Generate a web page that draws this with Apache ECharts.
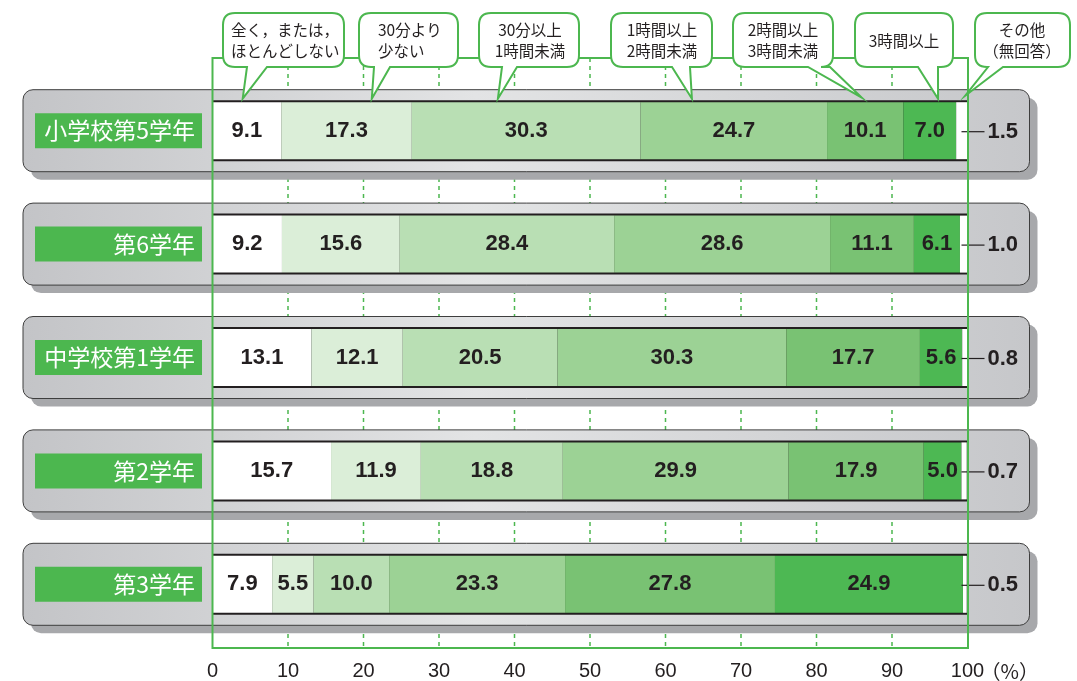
<!DOCTYPE html>
<html>
<head>
<meta charset="utf-8">
<script src="https://cdn.jsdelivr.net/npm/echarts@6/dist/echarts.min.js"></script>
<style>
html,body{margin:0;padding:0;background:#fff;}
#main{width:1077px;height:681px;}
</style>
</head>
<body>
<div id="main"></div>
<script>
// ---------- data ----------
const categories = ['小学校第5学年', '第6学年', '中学校第1学年', '第2学年', '第3学年'];
const seriesNames = ['全く，または，ほとんどしない', '30分より少ない', '30分以上1時間未満', '1時間以上2時間未満', '2時間以上3時間未満', '3時間以上', 'その他（無回答）'];
const none     = [9.1, 9.2, 13.1, 15.7, 7.9];
const lt30     = [17.3, 15.6, 12.1, 11.9, 5.5];
const m30to1h  = [30.3, 28.4, 20.5, 18.8, 10.0];
const h1to2    = [24.7, 28.6, 30.3, 29.9, 23.3];
const h2to3    = [10.1, 11.1, 17.7, 17.9, 27.8];
const h3plus   = [7.0, 6.1, 5.6, 5.0, 24.9];
const other    = [1.5, 1.0, 0.8, 0.7, 0.5];
const xTicks   = [0, 10, 20, 30, 40, 50, 60, 70, 80, 90, 100];
const legendLines = [
  ['全く，または，', 'ほとんどしない'],
  ['30分より', '少ない'],
  ['30分以上', '1時間未満'],
  ['1時間以上', '2時間未満'],
  ['2時間以上', '3時間未満'],
  ['3時間以上'],
  ['その他', '（無回答）']
];

// ---------- style / layout ----------
const colors = ['#ffffff', '#dbeed8', '#b9dfb4', '#9cd295', '#79c273', '#4db853', '#ffffff'];
const GREEN = '#4cb74f';
const INK = '#231f20';
const NUMFONT = '"Liberation Sans", Arial, sans-serif';
const CJKFONT = '"Noto Sans CJK JP", sans-serif';
// bubble boxes: x0,x1, tail base ta,tb, tail target (axis value), text x, align, apex dy
const bubbleLayout = [
  {x0: 223, x1: 344, ta: 247, tb: 267, target: 4.0,  tx: 231, align: 'left',   dy: 0},
  {x0: 359, x1: 458, ta: 374, tb: 390, target: 21.1, tx: 378, align: 'left',   dy: 0},
  {x0: 479, x1: 579, ta: 502, tb: 517, target: 37.8, tx: 530, align: 'center', dy: 0},
  {x0: 611, x1: 712, ta: 672, tb: 690, target: 63.5, tx: 662, align: 'center', dy: 0},
  {x0: 733, x1: 833, ta: 808, tb: 830, target: 86.0, tx: 783, align: 'center', dy: -1},
  {x0: 855, x1: 953, ta: 918, tb: 938, target: 96.1, tx: 904, align: 'center', dy: 0},
  {x0: 975, x1: 1070, ta: 988, tb: 1003, target: 99.7, tx: 1022, align: 'center', dy: -3}
];
const BOX_TOP = 13, BOX_BOTTOM = 67, BOX_R = 12;

function bubblePath(x0, y0, x1, y1, r, ta, tb, ax, ay) {
  return 'M' + (x0 + r) + ',' + y0 + ' L' + (x1 - r) + ',' + y0 +
    ' Q' + x1 + ',' + y0 + ' ' + x1 + ',' + (y0 + r) +
    ' L' + x1 + ',' + (y1 - r) +
    ' Q' + x1 + ',' + y1 + ' ' + (x1 - r) + ',' + y1 +
    ' L' + tb + ',' + y1 + ' L' + ax + ',' + ay + ' L' + ta + ',' + y1 +
    ' L' + (x0 + r) + ',' + y1 +
    ' Q' + x0 + ',' + y1 + ' ' + x0 + ',' + (y1 - r) +
    ' L' + x0 + ',' + (y0 + r) +
    ' Q' + x0 + ',' + y0 + ' ' + (x0 + r) + ',' + y0 + ' Z';
}

const seriesData = [none, lt30, m30to1h, h1to2, h2to3, h3plus, other];

const chart = echarts.init(document.getElementById('main'), null, {renderer: 'canvas'});

const panelGradient = new echarts.graphic.LinearGradient(0, 0, 1, 0, [
  {offset: 0, color: '#c3c4c7'},
  {offset: 0.45, color: '#e3e4e5'},
  {offset: 1, color: '#c6c7ca'}
]);

const series = [];

// dashed vertical grid lines
series.push({
  type: 'custom', z: 0, silent: true, animation: false,
  data: xTicks.filter(v => v > 0 && v < 100).map(v => [v, 0]),
  encode: {x: 0, y: 1},
  renderItem: function (params, api) {
    const cs = params.coordSys;
    const x = api.coord([api.value(0), 0])[0];
    return {type: 'line', shape: {x1: x, y1: cs.y - 16, x2: x, y2: cs.y + cs.height + 7},
      style: {stroke: GREEN, lineWidth: 1.5, lineDash: [4, 4]}};
  }
});

// row panels + black band
series.push({
  type: 'custom', z: 1, silent: true, animation: false,
  data: categories.map((c, i) => [0, i]),
  encode: {x: 0, y: 1},
  renderItem: function (params, api) {
    const i = api.value(1);
    const p0 = api.coord([0, i]);
    const p1 = api.coord([100, i]);
    const cy = p0[1];
    const L = p0[0] - 189.5, R = p1[0] + 62, T = cy - 41, H = 82;
    return {type: 'group', children: [
      {type: 'rect', shape: {x: L + 8, y: T + 8, width: R - L, height: H, r: 10}, style: {fill: '#a7a8ab'}},
      {type: 'rect', shape: {x: L, y: T, width: R - L, height: H, r: 10}, style: {fill: panelGradient, stroke: '#3e3e3e', lineWidth: 1}},
      {type: 'rect', shape: {x: p0[0], y: cy - 30.5, width: p1[0] - p0[0] + 0.5, height: 61}, style: {fill: INK}}
    ]};
  }
});

// stacked bars
seriesData.forEach((arr, k) => {
  series.push({
    name: seriesNames[k], type: 'bar', stack: 'total', z: 2,
    barWidth: 57, silent: true, animation: false,
    itemStyle: {color: colors[k]},
    label: {
      show: k < 6, position: 'inside', color: INK,
      fontFamily: NUMFONT, fontSize: 22, fontWeight: 'bold',
      formatter: p => Number(p.value).toFixed(1)
    },
    data: arr
  });
});

// "other" labels to the right with leader line
series.push({
  type: 'custom', z: 3, silent: true, animation: false,
  data: other.map((v, i) => [v, i]),
  encode: {x: 0, y: 1},
  renderItem: function (params, api) {
    const i = api.value(1);
    const p1 = api.coord([100, i]);
    return {type: 'group', children: [
      {type: 'line', shape: {x1: p1[0] - 6, y1: p1[1] + 1, x2: p1[0] + 17, y2: p1[1] + 1}, style: {stroke: INK, lineWidth: 1.2}},
      {type: 'text', style: {text: Number(api.value(0)).toFixed(1), x: p1[0] + 20, y: p1[1] + 1,
        fill: INK, fontSize: 22, fontWeight: 'bold', fontFamily: NUMFONT, align: 'left', verticalAlign: 'middle'}}
    ]};
  }
});

// green frame and (%) label
series.push({
  type: 'custom', z: 5, silent: true, animation: false,
  data: [[0, 0]],
  encode: {x: 0, y: 1},
  renderItem: function (params, api) {
    const cs = params.coordSys;
    const x0 = api.coord([0, 0])[0];
    const x1 = api.coord([100, 0])[0];
    return {type: 'group', children: [
      {type: 'rect', shape: {x: x0, y: cs.y - 16, width: x1 - x0 + 0.5, height: cs.height + 23},
        style: {fill: 'none', stroke: GREEN, lineWidth: 2}},
      {type: 'text', style: {text: '（%）', x: x1 + 13, y: cs.y + cs.height + 30, fill: INK,
        fontSize: 20, fontFamily: CJKFONT, align: 'left', verticalAlign: 'middle'}}
    ]};
  }
});

// legend callout bubbles
series.push({
  type: 'custom', z: 6, silent: true, animation: false,
  data: bubbleLayout.map(b => [b.target, 0]),
  encode: {x: 0, y: 1},
  renderItem: function (params, api) {
    const b = bubbleLayout[params.dataIndex];
    const lines = legendLines[params.dataIndex];
    const apex = api.coord([api.value(0), 0]);
    const ax = apex[0], ay = apex[1] - 32 + b.dy;
    return {type: 'group', children: [
      {type: 'path', shape: {pathData: bubblePath(b.x0, BOX_TOP, b.x1, BOX_BOTTOM, BOX_R, b.ta, b.tb, ax, ay)},
        style: {fill: '#fff', stroke: GREEN, lineWidth: 2}},
      {type: 'text', style: {text: lines.join('\n'), x: b.tx, y: 41, fill: INK,
        fontSize: 15.5, lineHeight: 21, fontFamily: CJKFONT, align: b.align, verticalAlign: 'middle'}}
    ]};
  }
});

const option = {
  animation: false,
  backgroundColor: '#ffffff',
  grid: {left: 212.5, right: 109.5, top: 74, bottom: 40, containLabel: false},
  xAxis: {
    type: 'value', min: 0, max: 100, interval: 10,
    axisLine: {show: false}, axisTick: {show: false}, splitLine: {show: false},
    axisLabel: {margin: 20, fontSize: 20, color: INK, fontFamily: NUMFONT,
      formatter: v => xTicks.indexOf(v) >= 0 ? String(v) : ''}
  },
  yAxis: {
    type: 'category', inverse: true, data: categories, z: 4,
    axisLine: {show: false}, axisTick: {show: false}, splitLine: {show: false},
    axisLabel: {
      margin: 10.5,
      formatter: v => '{b|' + v + '}',
      rich: {b: {backgroundColor: GREEN, color: '#fff', width: 160, height: 35, lineHeight: 35,
        align: 'right', padding: [0, 7, 0, 0], fontSize: 23, fontFamily: CJKFONT}}
    }
  },
  series: series
};
chart.setOption(option);
</script>
</body>
</html>
